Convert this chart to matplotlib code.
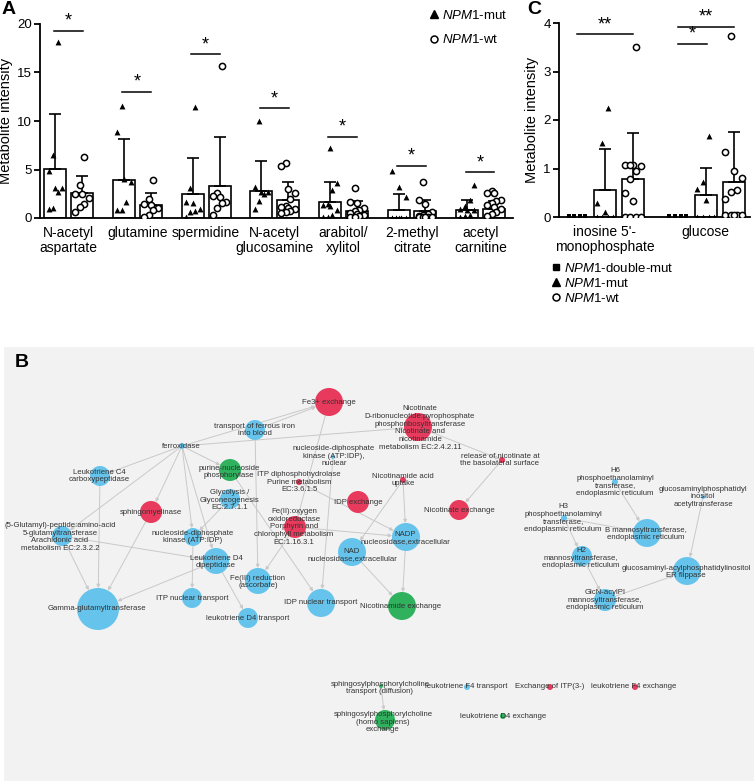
import numpy as np
import matplotlib.pyplot as plt
from matplotlib.lines import Line2D
from matplotlib.patches import FancyArrowPatch

plt.rcParams['font.family'] = ['Liberation Sans', 'DejaVu Sans']
plt.rcParams['mathtext.fontset'] = 'custom'
plt.rcParams['mathtext.it'] = 'Liberation Sans:italic'
plt.rcParams['mathtext.rm'] = 'Liberation Sans'

W, H = 754, 784

# ---------------- panel A data ----------------
a_names = ['N-acetyl\naspartate', 'glutamine', 'spermidine', 'N-acetyl\nglucosamine',
           'arabitol/\nxylitol', '2-methyl\ncitrate', 'acetyl\ncarnitine']
a_mut_mean = [5.1, 3.95, 2.45, 2.8, 1.6, 0.85, 0.85]
a_mut_sd = [5.6, 4.15, 3.7, 3.1, 2.1, 1.65, 1.0]
a_wt_mean = [2.6, 1.3, 3.3, 1.85, 0.75, 0.7, 0.9]
a_wt_sd = [1.7, 1.25, 5.1, 1.85, 1.05, 1.15, 0.85]
a_mut_pts = [
    [18.1, 6.5, 4.8, 3.1, 2.7, 3.1, 0.9, 1.0],
    [11.5, 8.9, 4.0, 3.7, 1.6, 0.8, 0.8],
    [11.4, 3.1, 1.6, 1.5, 0.9, 0.7, 0.6, 0.1],
    [10.0, 3.2, 2.7, 2.7, 2.5, 1.8, 0.9],
    [7.2, 3.6, 2.9, 1.4, 1.3, 1.2, 0.8, 0.3, 0.1, 0.1],
    [4.8, 3.2, 2.2, 0.05, 0.05, 0.05, 0.05, 0.05, 0.05, 0.05, 0.05],
    [3.4, 1.9, 1.2, 0.9, 0.8, 0.8, 0.3, 0.2, 0.1],
]
a_wt_pts = [
    [6.3, 3.4, 2.5, 2.5, 2.1, 1.4, 1.1, 0.6],
    [3.9, 2.0, 1.4, 1.3, 1.0, 0.8, 0.3, 0.1],
    [15.7, 2.6, 2.3, 2.2, 1.7, 1.5, 1.0, 0.3],
    [5.7, 5.4, 3.0, 2.6, 2.0, 1.2, 1.1, 1.0, 0.9, 0.7, 0.6, 0.5],
    [3.1, 1.6, 1.5, 1.0, 0.8, 0.7, 0.5, 0.4, 0.3, 0.2, 0.1, 0.1],
    [3.75, 1.9, 1.4, 0.6, 0.4, 0.3, 0.2, 0.1, 0.1, 0.1, 0.1, 0.1],
    [2.8, 2.6, 2.6, 1.9, 1.8, 1.5, 1.3, 1.1, 0.9, 0.6, 0.4, 0.2],
]
a_sig_y = [19.3, 13.0, 16.9, 11.3, 8.4, 5.4, 4.7]

# ---------------- panel C data ----------------
c_names = ["inosine 5'-\nmonophosphate", 'glucose']
c_dbl_pts = [[0.02, 0.02, 0.02, 0.02], [0.02, 0.02, 0.02, 0.02]]
c_mut_mean = [0.55, 0.45]
c_mut_sd = [0.85, 0.56]
c_wt_mean = [0.78, 0.72]
c_wt_sd = [0.96, 1.03]
c_mut_pts = [[2.25, 1.52, 0.28, 0.1, 0.0, 0.0, 0.0, 0.0],
             [1.68, 0.73, 0.58, 0.35, 0.0, 0.0, 0.0, 0.0]]
c_wt_pts = [[3.5, 1.08, 1.07, 1.05, 1.08, 0.95, 0.78, 0.5, 0.32, 0.0, 0.0, 0.0, 0.0],
            [3.73, 1.35, 0.95, 0.8, 0.55, 0.52, 0.38, 0.05, 0.05, 0.05, 0.05, 0.05]]

# ---------------- panel B network ----------------
node_labels = [
    'Fe3+ exchange', 'transport of ferrous iron\ninto blood', 'ferroxidase',
    'Leukotriene C4\ncarboxypeptidase', 'purine-nucleoside\nphosphorylase',
    'nucleoside-diphosphate\nkinase (ATP:IDP),\nnuclear',
    'ITP diphosphohydrolase\nPurine metabolism\nEC:3.6.1.5',
    'Nicotinate\nD-ribonucleotide:pyrophosphate\nphosphoribosyltransferase\nNicotinate and\nnicotinamide\nmetabolism EC:2.4.2.11',
    'release of nicotinate at\nthe basolateral surface', 'Nicotinamide acid\nuptake',
    'IDP exchange', 'Nicotinate exchange', 'sphingomyelinase',
    'Glycolysis /\nGlyconeogenesis\nEC:2.7.1.1',
    '(5-Glutamyl)-peptide:amino-acid\n5-glutamyltransferase\nArachidonic acid\nmetabolism EC:2.3.2.2',
    'Fe(II):oxygen\noxidoreductase\nPorphyrin and\nchlorophyll metabolism\nEC:1.16.3.1',
    'nucleoside-diphosphate\nkinase (ATP:IDP)', 'Leukotriene D4\ndipeptidase',
    'NAD\nnucleosidase,extracellular', 'NADP\nnucleosidase,extracellular',
    'Fe(III) reduction\n(ascorbate)', 'ITP nuclear transport', 'Gamma-glutamyltransferase',
    'leukotriene D4 transport', 'IDP nuclear transport', 'Nicotinamide exchange',
    'H6\nphosphoethanolaminyl\ntransferase,\nendoplasmic reticulum',
    'glucosaminylphosphatidyl\ninositol\nacetyltransferase',
    'H3\nphosphoethanolaminyl\ntransferase,\nendoplasmic reticulum',
    'B mannosyltransferase,\nendoplasmic reticulum',
    'H2\nmannosyltransferase,\nendoplasmic reticulum',
    'glucosaminyl-acylphosphatidylinositol\nER flippase',
    'GlcN-acylPI\nmannosyltransferase,\nendoplasmic reticulum',
    'sphingosylphosphorylcholine\ntransport (diffusion)', 'leukotriene F4 transport',
    'Exchange of ITP(3-)', 'leukotriene F4 exchange',
    'sphingosylphosphorylcholine\n(homo sapiens)\nexchange', 'leukotriene D4 exchange',
]
node_x = [329, 255, 182, 100, 230, 333, 299, 418, 502, 403, 358, 459, 151, 230, 62, 295, 193,
          216, 352, 406, 258, 192, 98, 248, 321, 402, 615, 703, 564, 647, 582, 687, 605, 381,
          467, 550, 635, 385, 503]
node_y = [402, 430, 446, 476, 470, 457, 482, 427, 460, 480, 502, 510, 512, 499, 536, 527, 537,
          561, 552, 537, 581, 598, 609, 618, 603, 606, 482, 497, 518, 533, 556, 571, 600, 686,
          687, 687, 687, 720, 716]
node_r = [14, 10, 3, 10, 11, 2, 3, 14, 3, 3, 11, 10, 11, 10, 10, 11, 9, 13, 14, 14, 13, 10, 21,
          10, 14, 14, 3, 2, 3, 14, 10, 14, 11, 2, 3, 3, 3, 10, 3]
node_kind = ['r', 'b', 'b', 'b', 'g', 'b', 'r', 'r', 'r', 'r', 'r', 'r', 'r', 'b', 'b', 'r', 'b',
             'b', 'b', 'b', 'b', 'b', 'b', 'b', 'b', 'g', 'b', 'b', 'b', 'b', 'b', 'b', 'b', 'g',
             'b', 'r', 'r', 'g', 'g']
label_x = [329, 255, 181, 99, 229, 334, 299, 420, 500, 403, 358, 459, 151, 230, 60, 294, 193,
           216, 352, 405, 258, 192, 97, 248, 321, 401, 615, 703, 563, 646, 581, 686, 605, 380,
           466, 550, 634, 383, 503]
label_y = [402, 430, 446, 476, 472, 456, 482, 428, 460, 480, 502, 510, 512, 500, 537, 527, 537,
           562, 555, 538, 582, 598, 609, 618, 603, 606, 482, 497, 518, 534, 558, 572, 600, 688,
           687, 687, 687, 722, 716]
edges = [(2, 0), (2, 7), (2, 3), (2, 14), (2, 12), (2, 4), (2, 16), (2, 17), (1, 0), (1, 20),
         (0, 15), (3, 22), (14, 22), (12, 22), (17, 22), (14, 17), (16, 21), (13, 16), (4, 24),
         (15, 20), (5, 24), (6, 19), (7, 8), (8, 11), (9, 19), (19, 25), (18, 25), (9, 18),
         (15, 19), (17, 23), (26, 29), (28, 29), (28, 30), (30, 32), (27, 31), (32, 31), (33, 37)]
kind_color = {'b': '#66c4ec', 'r': '#e83a5c', 'g': '#2fb15e'}

fig = plt.figure(figsize=(W / 100, H / 100), dpi=100)


def px_axes(l, t, r, b):
    return fig.add_axes([l / W, 1 - b / H, (r - l) / W, (b - t) / H])


def spread(vals, half):
    vals = np.asarray(vals, float)
    order = np.argsort(vals, kind='stable')
    cyc = [-1, -0.33, 0.33, 1, 0]
    off = np.zeros(len(vals))
    for k, idx in enumerate(order):
        off[idx] = half * cyc[k % len(cyc)]
    return off


def style_prism(ax):
    for s in ['top', 'right']:
        ax.spines[s].set_visible(False)
    for s in ['left', 'bottom']:
        ax.spines[s].set_linewidth(1.3)
    ax.tick_params(axis='y', width=1.3, length=4, labelsize=9.5, pad=2)
    ax.tick_params(axis='x', length=0, labelsize=10, pad=6)


def bar_with_err(ax, x, mean, sd, width):
    ax.bar(x, mean, width, color='white', edgecolor='black', linewidth=1.2, zorder=2)
    ax.errorbar(x, mean, yerr=[[0], [sd]], fmt='none', ecolor='black', elinewidth=1.2,
                capsize=4.5, capthick=1.2, zorder=3)


tri_kw = dict(marker='^', s=18, color='black', zorder=4, linewidths=0)
circ_kw = dict(marker='o', s=20, facecolor='white', edgecolor='black', linewidths=1.1, zorder=4)
sq_kw = dict(marker='s', s=12, color='black', zorder=4, linewidths=0)

# ---------------- panel A ----------------
ax_a = px_axes(40, 24, 513, 218)
style_prism(ax_a)
off = 0.195
for i in range(len(a_names)):
    bar_with_err(ax_a, i - off, a_mut_mean[i], a_mut_sd[i], 0.32)
    bar_with_err(ax_a, i + off, a_wt_mean[i], a_wt_sd[i], 0.32)
    ax_a.scatter(i - off + spread(a_mut_pts[i], 0.1), a_mut_pts[i], **tri_kw)
    ax_a.scatter(i + off + spread(a_wt_pts[i], 0.1), a_wt_pts[i], **circ_kw)
    ax_a.plot([i - 0.22, i + 0.2], [a_sig_y[i], a_sig_y[i]], color='black', lw=1.1, clip_on=False)
    ax_a.text(i - 0.01, a_sig_y[i] + 0.1, '*', ha='center', va='bottom', fontsize=13,
              clip_on=False)
ax_a.set_xlim(-0.42, 6.47)
ax_a.set_ylim(0, 20)
ax_a.set_yticks([0, 5, 10, 15, 20])
ax_a.set_xticks(range(len(a_names)))
ax_a.set_xticklabels(a_names, linespacing=1.1)
ax_a.set_ylabel('Metabolite intensity', fontsize=10.5, labelpad=3)
h_mut = Line2D([], [], marker='^', color='black', ls='none', markersize=6)
h_wt = Line2D([], [], marker='o', mfc='white', mec='black', mew=1.1, ls='none', markersize=5)
ax_a.legend([h_mut, h_wt], [r'$\mathit{NPM1}$-mut', r'$\mathit{NPM1}$-wt'], loc='upper left',
            bbox_to_anchor=(429 / W, 1 - 9 / H), bbox_transform=fig.transFigure, frameon=False,
            fontsize=9.5, handlelength=0.7, handletextpad=0.3, labelspacing=0.85, borderpad=0,
            borderaxespad=0)
fig.text(2 / W, 1 - 1 / H, 'A', fontsize=14, fontweight='bold', va='top')

# ---------------- panel C ----------------
ax_c = px_axes(559, 23, 750, 217)
style_prism(ax_c)
gap = 3.6
for g in range(len(c_names)):
    x0 = g * gap
    ax_c.scatter(x0 + np.linspace(-0.3, 0.3, len(c_dbl_pts[g])), c_dbl_pts[g], **sq_kw)
    bar_with_err(ax_c, x0 + 1, c_mut_mean[g], c_mut_sd[g], 0.8)
    bar_with_err(ax_c, x0 + 2, c_wt_mean[g], c_wt_sd[g], 0.8)
    ax_c.scatter(x0 + 1 + spread(c_mut_pts[g], 0.3), c_mut_pts[g], **tri_kw)
    ax_c.scatter(x0 + 2 + spread(c_wt_pts[g], 0.3), c_wt_pts[g], **circ_kw)
c_sig = [(0, 2, 3.77, '**'), (gap, gap + 2, 3.92, '**'), (gap, gap + 1.05, 3.57, '*')]
for xa, xb, yy, lab in c_sig:
    ax_c.plot([xa, xb], [yy, yy], color='black', lw=1.1, clip_on=False)
    ax_c.text((xa + xb) / 2, yy + 0.02, lab, ha='center', va='bottom', fontsize=13,
              clip_on=False)
ax_c.set_xlim(-0.64, 6.18)
ax_c.set_ylim(0, 4)
ax_c.set_yticks([0, 1, 2, 3, 4])
ax_c.set_xticks([1, gap + 1])
ax_c.set_xticklabels(c_names, linespacing=1.1)
ax_c.set_ylabel('Metabolite intensity', fontsize=10.5, labelpad=3)
h_dbl = Line2D([], [], marker='s', color='black', ls='none', markersize=5)
ax_c.legend([h_dbl, h_mut, h_wt],
            [r'$\mathit{NPM1}$-double-mut', r'$\mathit{NPM1}$-mut', r'$\mathit{NPM1}$-wt'],
            loc='upper left', bbox_to_anchor=(551 / W, 1 - 262 / H),
            bbox_transform=fig.transFigure, frameon=False, fontsize=9.5, handlelength=0.7,
            handletextpad=0.3, labelspacing=0.15, borderpad=0, borderaxespad=0)
fig.text(527 / W, 1 - 1 / H, 'C', fontsize=14, fontweight='bold', va='top')

# ---------------- panel B ----------------
ax_b = px_axes(4, 347, 754, 781)
ax_b.set_facecolor('#f2f2f2')
for s in ax_b.spines.values():
    s.set_visible(False)
ax_b.set_xticks([])
ax_b.set_yticks([])
ax_b.set_xlim(4, 754)
ax_b.set_ylim(781, 347)
for a, b in edges:
    arr = FancyArrowPatch((node_x[a], node_y[a]), (node_x[b], node_y[b]), arrowstyle='-|>',
                          mutation_scale=5, shrinkA=node_r[a] * 0.72, shrinkB=node_r[b] * 0.72,
                          color='#c9c9c9', lw=0.7, zorder=1)
    ax_b.add_patch(arr)
ax_b.scatter(node_x, node_y, s=[(1.44 * r) ** 2 for r in node_r],
             c=[kind_color[k] for k in node_kind], linewidths=0, zorder=2)
for lab, lx, ly in zip(node_labels, label_x, label_y):
    ax_b.text(lx, ly, lab, ha='center', va='center', multialignment='center', fontsize=5.6,
              color='#333333', linespacing=1.15, zorder=3)
ax_b.text(15, 363, 'B', fontsize=14, fontweight='bold', va='center', ha='left')

fig.savefig('out.png', dpi=100)
